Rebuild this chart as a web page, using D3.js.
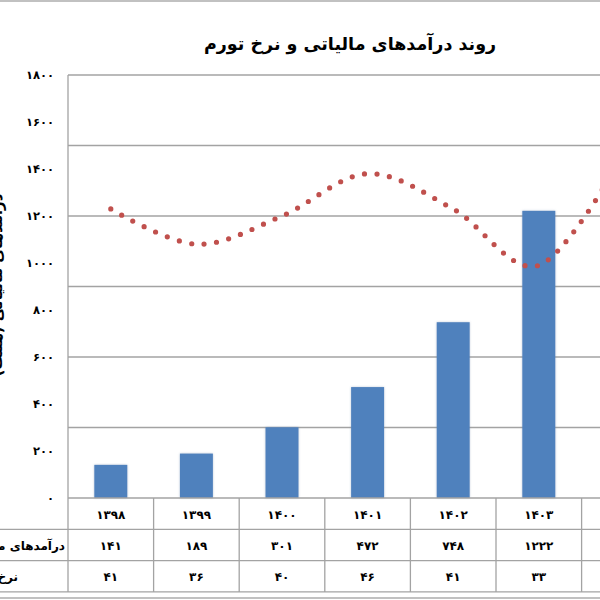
<!DOCTYPE html>
<html>
<head>
<meta charset="utf-8">
<script src="https://cdn.jsdelivr.net/npm/d3@7"></script>
<style>
  html, body { margin: 0; padding: 0; background: #fff; }
  svg { display: block; font-family: "DejaVu Sans", sans-serif; }
</style>
</head>
<body>
<svg id="chart" width="600" height="600"></svg>
<script>
// Chart data
const years = [1398, 1399, 1400, 1401, 1402, 1403, 1404]
const taxRevenue = [141, 189, 301, 472, 748, 1222, 1700]   // last column is cut off, estimated
const inflation = [41, 36, 40, 46, 41, 33, 49]              // last column is cut off, estimated
const revenueTicks = [0, 200, 400, 600, 800, 1000, 1200, 1400, 1600, 1800]
const inflationTicks = [0, 10, 20, 30, 40, 50, 60]

const title = "روند درآمدهای مالیاتی و نرخ تورم"
const revenueLabel = "درآمدهای مالیاتی (همت)"
const inflationLabel = "نرخ تورم (درصد)"

// Turn latin digits into persian ones
const faDigits = "۰۱۲۳۴۵۶۷۸۹"
const fa = n => String(n).replace(/\d/g, c => faDigits[+c])

const svg = d3.select("#chart")
const gridColor = "#a3a3a3"

// Plot area
const plotLeft = 68, plotTop = 75, plotBottom = 498
const rowH = 31.3

// One column per year (columns continue past the right edge like in the reference)
const x = d3.scaleBand().domain(years).range([plotLeft, plotLeft + 7 * 85.6])
const y = d3.scaleLinear().domain([0, 1800]).range([plotBottom, plotTop])
const y2 = d3.scaleLinear().domain([0, 60]).range([plotBottom, plotTop])

// Outer frame of the chart
svg.append("rect")
  .attr("x", -5).attr("y", 1).attr("width", 620).attr("height", 597)
  .attr("fill", "#fff").attr("stroke", "#a0a0a0").attr("stroke-width", 1.3)

// Drop shadow for the bars
const defs = svg.append("defs")
defs.append("filter").attr("id", "shadow")
  .attr("x", "-20%").attr("y", "-5%").attr("width", "140%").attr("height", "110%")
  .append("feDropShadow")
  .attr("dx", 0).attr("dy", 0).attr("stdDeviation", 1.2)
  .attr("flood-color", "#6d86a8").attr("flood-opacity", 0.45)

// Title
svg.append("text")
  .attr("x", 350).attr("y", 50)
  .attr("text-anchor", "middle")
  .attr("font-size", 17.5).attr("font-weight", "bold")
  .attr("direction", "rtl")
  .text(title)

// Gridlines follow the secondary (inflation) axis
svg.append("g")
  .selectAll("line")
  .data(inflationTicks.filter(d => d > 0))
  .join("line")
  .attr("x1", plotLeft).attr("x2", 620)
  .attr("y1", d => y2(d)).attr("y2", d => y2(d))
  .attr("stroke", gridColor).attr("stroke-width", 1.3)

// Left axis line
svg.append("line")
  .attr("x1", plotLeft).attr("x2", plotLeft)
  .attr("y1", plotTop).attr("y2", plotBottom)
  .attr("stroke", gridColor).attr("stroke-width", 1.3)

// Left axis tick labels
svg.append("g")
  .selectAll("text")
  .data(revenueTicks)
  .join("text")
  .attr("x", 54).attr("y", d => y(d) + 4)
  .attr("text-anchor", "end")
  .attr("font-size", 11.5).attr("font-weight", "bold")
  .text(d => fa(d))

// Left axis title (cut by the left edge in the reference)
svg.append("text")
  .attr("transform", `translate(1.5,${285}) rotate(-90)`)
  .attr("text-anchor", "middle")
  .attr("font-size", 15).attr("font-weight", "bold")
  .attr("direction", "rtl")
  .text(revenueLabel)

// Bars
const barW = x.bandwidth() * 0.385
svg.append("g")
  .selectAll("rect")
  .data(years)
  .join("rect")
  .attr("x", d => x(d) + (x.bandwidth() - barW) / 2)
  .attr("y", (d, i) => y(taxRevenue[i]))
  .attr("width", barW)
  .attr("height", (d, i) => plotBottom - y(taxRevenue[i]))
  .attr("fill", "#4f81bd")
  .attr("filter", "url(#shadow)")

// Dotted smoothed inflation line
const line = d3.line()
  .x(d => x(d[0]) + x.bandwidth() / 2)
  .y(d => y2(d[1]))
  .curve(d3.curveCardinal.tension(0))

svg.append("path")
  .datum(years.map((d, i) => [d, inflation[i]]))
  .attr("d", line)
  .attr("fill", "none")
  .attr("stroke", "#c0504d")
  .attr("stroke-width", 5.2)
  .attr("stroke-linecap", "round")
  .attr("stroke-dasharray", "0 12.6")

// Data table under the plot
const table = svg.append("g")
const rowsY = [plotBottom, plotBottom + rowH, plotBottom + 2 * rowH, plotBottom + 3 * rowH]

table.selectAll("line.h")
  .data(rowsY)
  .join("line")
  .attr("class", "h")
  .attr("x1", (d, i) => i == 0 ? plotLeft : -5).attr("x2", 620)
  .attr("y1", d => d).attr("y2", d => d)
  .attr("stroke", gridColor).attr("stroke-width", 1.3)

table.selectAll("line.v")
  .data([plotLeft, ...years.map(d => x(d) + x.bandwidth())])
  .join("line")
  .attr("class", "v")
  .attr("x1", d => d).attr("x2", d => d)
  .attr("y1", plotBottom).attr("y2", rowsY[3])
  .attr("stroke", gridColor).attr("stroke-width", 1.3)

const rows = [years, taxRevenue, inflation]
rows.forEach((vals, r) => {
  table.append("g")
    .selectAll("text")
    .data(vals)
    .join("text")
    .attr("x", (d, i) => x(years[i]) + x.bandwidth() / 2)
    .attr("y", rowsY[r] + rowH / 2 + 5)
    .attr("text-anchor", "middle")
    .attr("font-size", 12).attr("font-weight", "bold")
    .text(d => fa(d))
})

// Row labels share one left edge (off to the left of the picture);
// the longest one reaches the first column line
const labels = table.selectAll("text.label")
  .data([revenueLabel, inflationLabel])
  .join("text")
  .attr("class", "label")
  .attr("y", (d, i) => rowsY[i + 1] + rowH / 2 + 5)
  .attr("text-anchor", "end")
  .attr("direction", "rtl")
  .attr("font-size", 12).attr("font-weight", "bold")
  .text(d => d)

const widest = d3.max(labels.nodes(), n => n.getComputedTextLength())
labels.attr("x", plotLeft - 3 - widest)
</script>
</body>
</html>
